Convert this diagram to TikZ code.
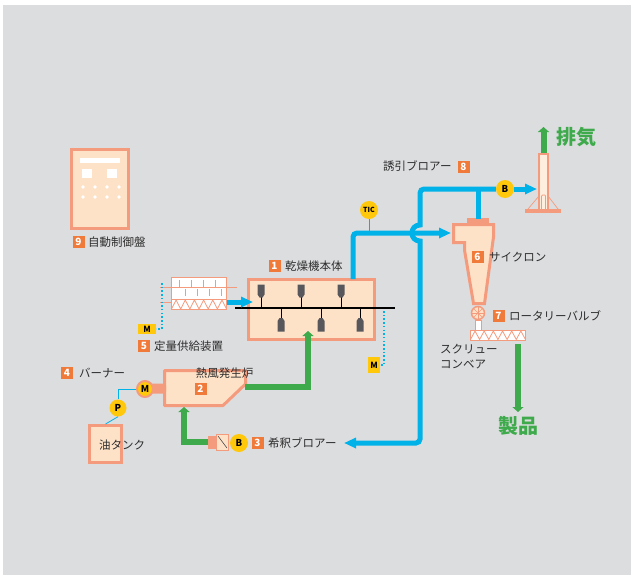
\documentclass[tikz,border=0pt]{standalone}
\usepackage{fontspec}
\setmainfont{Noto Sans CJK JP}
\usetikzlibrary{arrows.meta}

\definecolor{panelgray}{RGB}{220,221,223}
\definecolor{edgesalmon}{RGB}{245,155,125}
\definecolor{unitpeach}{RGB}{254,226,200}
\definecolor{badgeorange}{RGB}{240,122,58}
\definecolor{flowcyan}{RGB}{0,178,232}
\definecolor{airgreen}{RGB}{62,170,76}
\definecolor{signyellow}{RGB}{255,200,10}
\definecolor{paddlegray}{RGB}{88,88,92}
\definecolor{labelgray}{RGB}{45,45,45}

\begin{document}
\begin{tikzpicture}[
    x=1pt, y=-1pt,
    unit/.style={draw=edgesalmon, fill=unitpeach, line width=3pt, inner sep=0pt},
    thinunit/.style={draw=edgesalmon, fill=white, line width=1pt},
    hatch/.style={draw=edgesalmon, line width=0.8pt},
    pipe/.style={draw=flowcyan, line width=5pt},
    hotpipe/.style={draw=airgreen, line width=6pt},
    signal/.style={draw=flowcyan, line width=0.8pt},
    dotsig/.style={draw=flowcyan, line width=1.2pt, dash pattern=on 1.5pt off 2.2pt},
    cyantip/.style={-{Triangle[length=12pt, width=10pt]}},
    greentip/.style={-{Triangle[length=5pt, width=11pt]}},
    badge/.style={fill=badgeorange, text=white, minimum size=12pt, inner sep=0pt,
                  font=\fontsize{10}{10}\selectfont\bfseries},
    tag/.style={text=labelgray, anchor=west, inner sep=0pt,
                font=\fontsize{11.5}{15}\selectfont},
    instr/.style={circle, fill=signyellow, minimum size=18pt, inner sep=0pt,
                  font=\fontsize{9.5}{9.5}\selectfont\bfseries},
    mbox/.style={fill=signyellow, inner sep=0pt, font=\fontsize{8.5}{8.5}\selectfont\bfseries},
    product/.style={text=airgreen, inner sep=0pt, font=\fontsize{20}{20}\selectfont\bfseries},
  ]
  \useasboundingbox (0,0) rectangle (634,578);
  \fill[panelgray] (3,5) rectangle (631,575);

  % Control panel
  \node[unit, minimum width=57pt, minimum height=79pt] (ctrl) at (100,189) {};
  \fill[white] (80,158) rectangle (120,163);
  \fill[white] (82,169) rectangle (92,178);
  \fill[white] (107,169) rectangle (117,178);
  \foreach \px in {83,95,107,119}
    \foreach \py in {187,197}
      \fill[white] (\px,\py) circle (1.8pt);
  \node[badge] (n9) at (78.5,242) {9};
  \node[tag] (lbl9) at (88,242) {自動制御盤};

  % Feeder
  \node[thinunit, minimum width=55pt, minimum height=32pt, inner sep=0pt] (feeder) at (199,293.5) {};
  \draw[edgesalmon, line width=1pt] (160,287) -- (237,287);
  \draw[edgesalmon, line width=1pt] (160,302) -- (171,302);
  \draw[edgesalmon, line width=1pt] (171,299) -- (227,299);
  \foreach \bx in {179,191,203,215}
    \draw[hatch] (\bx,280) -- (\bx,287);
  \foreach \bx in {185,197,209,221}
    \draw[hatch] (\bx,289) -- (\bx,296);
  \draw[hatch] (171.5,309) \foreach \k in {0,...,5} { -- ({176.1+9.17*\k},300) -- ({180.7+9.17*\k},309) };
  \node[mbox, minimum width=18pt, minimum height=10pt] (feedm) at (147,329) {M};
  \draw[dotsig] (162,283) |- (feedm.east);
  \node[badge] (n5) at (144,346) {5};
  \node[tag] (lbl5) at (154,346) {定量供給装置};

  % Dryer
  \node[unit, minimum width=126pt, minimum height=60pt] (dryer) at (311.5,309.5) {};
  \draw[black, line width=1.2pt] (235,308) -- (395,308);
  \foreach \ux in {261,301,341} {
    \draw[black, line width=1pt] (\ux,308) -- (\ux,296);
    \fill[paddlegray] (\ux-3.5,284.5) -- (\ux+3.5,284.5) -- (\ux+3.5,294.5)
      -- (\ux+1.5,297.5) -- (\ux-1.5,297.5) -- (\ux-3.5,294.5) -- cycle;
  }
  \foreach \lx in {281,321,360} {
    \draw[black, line width=1pt] (\lx,308) -- (\lx,319);
    \fill[paddlegray] (\lx-1.5,318) -- (\lx+1.5,318) -- (\lx+3.5,321)
      -- (\lx+3.5,331.5) -- (\lx-3.5,331.5) -- (\lx-3.5,321) -- cycle;
  }
  \node[badge] (n1) at (274.5,266) {1};
  \node[tag] (lbl1) at (285,266) {乾燥機本体};
  \node[mbox, minimum width=12pt, minimum height=16pt] (drym) at (374,365) {M};
  \draw[dotsig] (384,311) |- (drym.east);

  % Hot air generator with burner and oil tank
  \draw[unit, line join=round] (164.5,370.5) -- (245.5,370.5) -- (245.5,384)
    -- (223,405.5) -- (164.5,405.5) -- cycle;
  \coordinate (furnout) at (245,387);
  \coordinate (furnin) at (184,407);
  \node[badge] (n2) at (200.5,388.5) {2};
  \node[tag, anchor=center] (lbl2) at (224.5,373) {熱風発生炉};
  \fill[edgesalmon, rounded corners=2pt] (150,383.5) rectangle (166,393.5);
  \node[instr, draw=edgesalmon, line width=2pt, minimum size=16pt] (burnm) at (145,389) {M};
  \node[badge] (n4) at (67,373) {4};
  \node[tag] (lbl4) at (79,373) {バーナー};
  \node[instr, minimum size=17pt] (pump) at (118,408) {P};
  \node[unit, minimum width=32pt, minimum height=37pt] (tank) at (105.5,444) {};
  \node[text=labelgray, font=\fontsize{11.5}{12}\selectfont, inner sep=0pt] (lbltank) at (122,445) {油タンク};
  \draw[signal] (burnm.west) -| (pump.north);
  \draw[signal] (pump.south) -- (tank.north);

  % Dilution blower
  \fill[edgesalmon] (208,436) rectangle (217,449);
  \node[draw=edgesalmon, fill=unitpeach, line width=1pt, minimum width=12pt, minimum height=16pt,
        inner sep=0pt] (damper) at (222.5,442) {};
  \draw[black!70, line width=0.6pt] (218,436) -- (227,448);
  \coordinate (dilin) at (208,442);
  \node[instr] (dilb) at (239,443) {B};
  \node[badge] (n3) at (257.5,443) {3};
  \node[tag] (lbl3) at (268,443) {希釈ブロアー};
  \coordinate (dilout) at (344,443);

  % Cyclone and rotary valve
  \draw[unit, line join=miter] (453.5,224.5) -- (493.5,224.5) -- (493.5,237) -- (484.5,303.5)
    -- (473.5,303.5) -- (464.5,250) -- (464.5,242.5) -- (453.5,242.5) -- cycle;
  \fill[edgesalmon] (467,218) rectangle (489,224);
  \coordinate (cycin) at (451,233);
  \coordinate (cycout) at (478,219);
  \node[badge] (n6) at (477.5,257) {6};
  \node[tag] (lbl6) at (489,257) {サイクロン};
  \draw[thinunit] (475,320.5) rectangle (481,330);
  \node[circle, draw=edgesalmon, fill=unitpeach, line width=1.5pt, minimum size=13pt,
        inner sep=0pt] (valve) at (478,313) {};
  \foreach \a in {0,45,90,135}
    \draw[edgesalmon, line width=0.6pt] ([shift={(\a:6pt)}]valve.center) -- ([shift={(\a+180:6pt)}]valve.center);
  \node[badge] (n7) at (498.5,316) {7};
  \node[tag] (lbl7) at (509,316) {ロータリーバルブ};

  % Screw conveyor
  \node[thinunit, minimum width=55pt, minimum height=10pt, inner sep=0pt] (conv) at (497.5,335) {};
  \draw[hatch] (470.5,339.5) \foreach \k in {0,...,5} { -- ({475+9.17*\k},331) -- ({479.6+9.17*\k},339.5) };
  \node[tag, align=left] (lblconv) at (440,357) {スクリュー\\コンベア};
  \coordinate (prodout) at (518,344);
  \coordinate (prodend) at (518,412);
  \node[product] (lblprod) at (518,426) {製品};

  % Stack
  \draw[draw=edgesalmon, fill=unitpeach!60, line width=2pt] (539,154) rectangle (548,210);
  \fill[edgesalmon] (525,209) rectangle (561,213);
  \draw[edgesalmon, line width=0.7pt] (528,209) -- (539,196);
  \draw[edgesalmon, line width=0.7pt] (558,209) -- (548,196);
  \draw[edgesalmon, line width=0.7pt, rounded corners=1pt] (541.5,209) -- (541.5,195) -- (545.5,195) -- (545.5,209);
  \coordinate (stackin) at (537,189);
  \coordinate (stacktop) at (543.5,153);
  \coordinate (exhaust) at (543.5,127);
  \node[product] (lblexh) at (576,137) {排気};

  % Induced fan and TIC
  \node[instr] (bfan) at (505,189) {B};
  \node[badge] (n8) at (463.5,166.5) {8};
  \node[tag] (lbl8) at (383,166.5) {誘引ブロアー};
  \node[instr, font=\fontsize{7}{7}\selectfont\bfseries] (tic) at (369,210) {TIC};

  % Gas lines
  \draw[pipe, cyantip] (feeder.east |- 0,302) -- (253,302);
  \draw[pipe, cyantip, rounded corners=4pt] (353,279) -- (353,233) -- (cycin);
  \draw[signal] (tic.south) -- (tic |- cycin);
  \draw[pipe] (cycout) -- (cycout |- bfan);
  \draw[pipe, cyantip] (bfan.west) [rounded corners=4pt] -- (420,189) [sharp corners] -- (420,225)
    .. controls (409.3,225) and (409.3,241) .. (420,241) [rounded corners=4pt] -- (420,443) -- (dilout);
  \draw[pipe, cyantip] (bfan.east) -- (stackin);

  % Hot air lines
  \draw[hotpipe, greentip] (furnout) -| (308,331);
  \draw[hotpipe, greentip] (dilin) -| (furnin);
  \draw[hotpipe, greentip] (prodout) -- (prodend);
  \draw[hotpipe, greentip] (stacktop) -- (exhaust);
\end{tikzpicture}
\end{document}
